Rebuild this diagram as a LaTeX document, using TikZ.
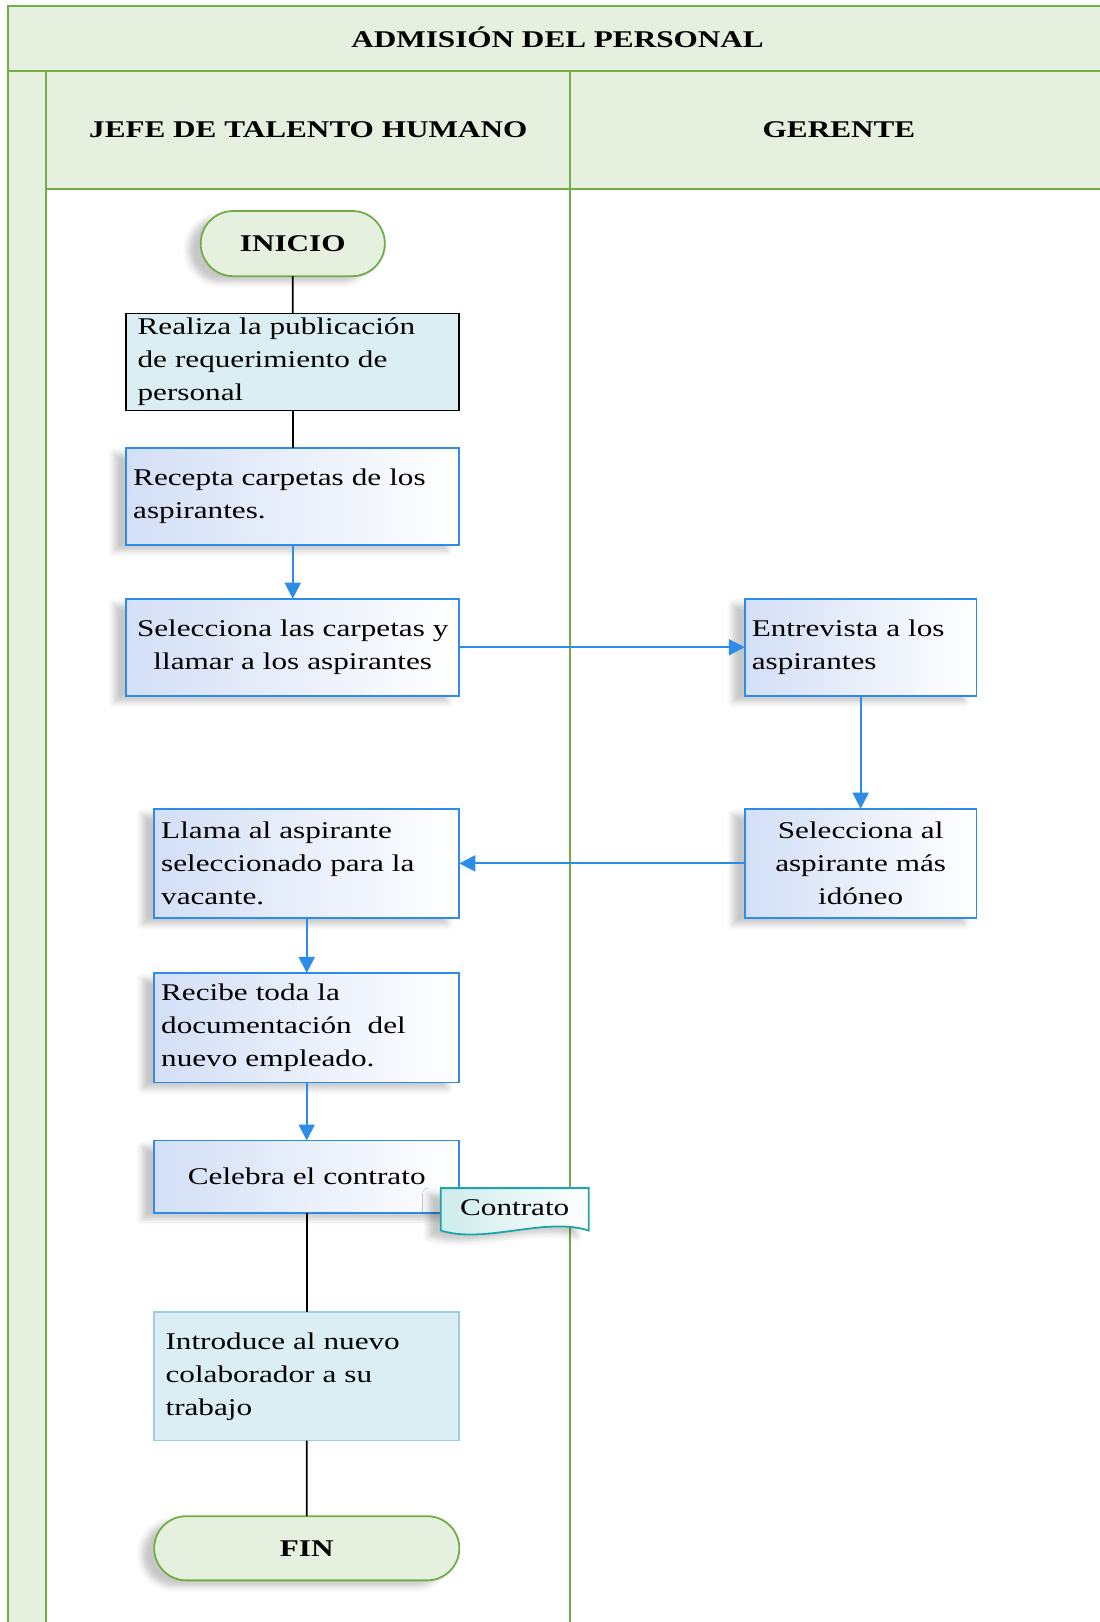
\documentclass[tikz,border=0pt]{standalone}
\usepackage{fontspec}
\setmainfont{Liberation Serif}[FakeStretch=1.3]
\usepackage{tikz}
\usetikzlibrary{arrows.meta,positioning,shapes.misc,shadows.blur}
\definecolor{lanegreen}{HTML}{70AD47}
\definecolor{lanefill}{HTML}{E5F1DE}
\definecolor{flowblue}{HTML}{2E8CE9}
\definecolor{boxblue}{HTML}{D3DFF6}
\definecolor{pubfill}{HTML}{DAEEF3}
\definecolor{introline}{HTML}{9BCFDD}
\definecolor{docteal}{HTML}{1FA5A8}
\newcommand{\boxfont}{\fontsize{12}{16.5}\selectfont}
\tikzset{
  lane/.style={draw=lanegreen, line width=1pt},
  header/.style={font=\boxfont\bfseries},
  soft/.style={blur shadow={shadow xshift=-6pt, shadow yshift=-3pt, shadow blur radius=3pt, shadow opacity=22}},
  terminal/.style={rounded rectangle, draw=lanegreen, line width=0.9pt, fill=lanefill, font=\boxfont\bfseries, minimum height=32.6pt, outer sep=0pt, soft},
  flowbox/.style={draw=flowblue, line width=0.9pt, left color=boxblue, right color=white, font=\boxfont, inner xsep=3.5pt, inner ysep=1pt, outer sep=0pt, align=left, soft},
  pubbox/.style={draw=black, line width=0.8pt, fill=pubfill, font=\boxfont, inner xsep=5.7pt, inner ysep=1pt, outer sep=0pt, align=left},
  docshape/.style={draw=docteal, line width=0.9pt, left color=docteal!22, right color=white, soft},
  flow/.style={-{Triangle[length=8pt,width=8pt]}, line width=1pt, draw=flowblue},
  link/.style={line width=0.8pt, draw=black}
}
\begin{document}
\begin{tikzpicture}[x=0.5174pt, y=-0.5174pt, node distance=18.6pt]
  \useasboundingbox (0,0) rectangle (1063,1568);
  % carriles
  \fill[lanefill] (8,6) rectangle (1063,69);
  \fill[lanefill] (8,69) rectangle (44,1568);
  \fill[lanefill] (44,69) rectangle (1063,183);
  \draw[lane] (1063,6) -- (8,6) -- (8,1568);
  \draw[lane] (8,69) -- (1063,69);
  \draw[lane] (44,69) -- (44,1568);
  \draw[lane] (551,69) -- (551,1568);
  \draw[lane] (44,183) -- (1063,183);
  \node[header] (titulo) at (539,36) {ADMISIÓN DEL PERSONAL};
  \node[header] (jefe) at (298,125) {JEFE DE TALENTO HUMANO};
  \node[header] (gerente) at (811,125) {GERENTE};

  % proceso
  \node[terminal, minimum width=98.8pt] (inicio) at (283,235.5) {INICIO};
  \node[pubbox, text width=155.2pt, minimum height=48.6pt, below=of inicio] (publica) {Realiza la publicación\\de requerimiento de\\personal};
  \node[flowbox, text width=159.6pt, minimum height=48.6pt, below=of publica] (recepta) {Recepta carpetas de los\\aspirantes.};
  \node[flowbox, text width=159.6pt, minimum height=48.6pt, align=center, below=26.9pt of recepta] (selcarp) {Selecciona las carpetas y\\llamar a los aspirantes};
  \node[flowbox, text width=108.9pt, minimum height=48.6pt, right=142.8pt of selcarp] (entrevista) {Entrevista a los\\aspirantes};
  \node[flowbox, text width=108.9pt, minimum height=54.8pt, align=center, below=56.4pt of entrevista] (selasp) {Selecciona al\\aspirante más\\idóneo};
  \node[flowbox, text width=145.6pt, minimum height=54.8pt, left=142.8pt of selasp] (llama) {Llama al aspirante\\seleccionado para la\\vacante.};
  \node[flowbox, text width=145.6pt, minimum height=54.8pt, below=27.4pt of llama] (recibe) {Recibe toda la\\documentación~~del\\nuevo empleado.};
  \node[flowbox, text width=145.6pt, minimum height=36.2pt, align=center, below=29pt of recibe] (celebra) {Celebra el contrato};

  % documento
  \coordinate (docnw) at ([xshift=-9.3pt, yshift=12.4pt]celebra.south east);
  \coordinate (docne) at ([xshift=74pt]docnw);
  \coordinate (docse) at ([xshift=74pt, yshift=-21.2pt]docnw);
  \coordinate (docsw) at ([yshift=-21.2pt]docnw);
  \path[docshape] (docnw) -- (docne) -- (docse) .. controls +(-22pt,7pt) and +(22pt,-7pt) .. (docsw) -- cycle;
  \node[font=\boxfont, inner sep=0pt] (contrato) at ([xshift=37pt, yshift=-10pt]docnw) {Contrato};

  \node[pubbox, draw=introline, text width=141.2pt, minimum height=64.2pt, below=49.7pt of celebra] (introduce) {Introduce al nuevo\\colaborador a su\\trabajo};
  \node[terminal, minimum width=159.3pt, minimum height=32.1pt, below=37.8pt of introduce] (fin) {FIN};

  \draw[link] (inicio) -- (publica);
  \draw[link] (publica) -- (recepta);
  \draw[flow] (recepta) -- (selcarp);
  \draw[flow] (selcarp) -- (entrevista);
  \draw[flow] (entrevista) -- (selasp);
  \draw[flow] (selasp) -- (llama);
  \draw[flow] (llama) -- (recibe);
  \draw[flow] (recibe) -- (celebra);
  \draw[link] (celebra) -- (introduce);
  \draw[link] (introduce) -- (fin);
\end{tikzpicture}
\end{document}
